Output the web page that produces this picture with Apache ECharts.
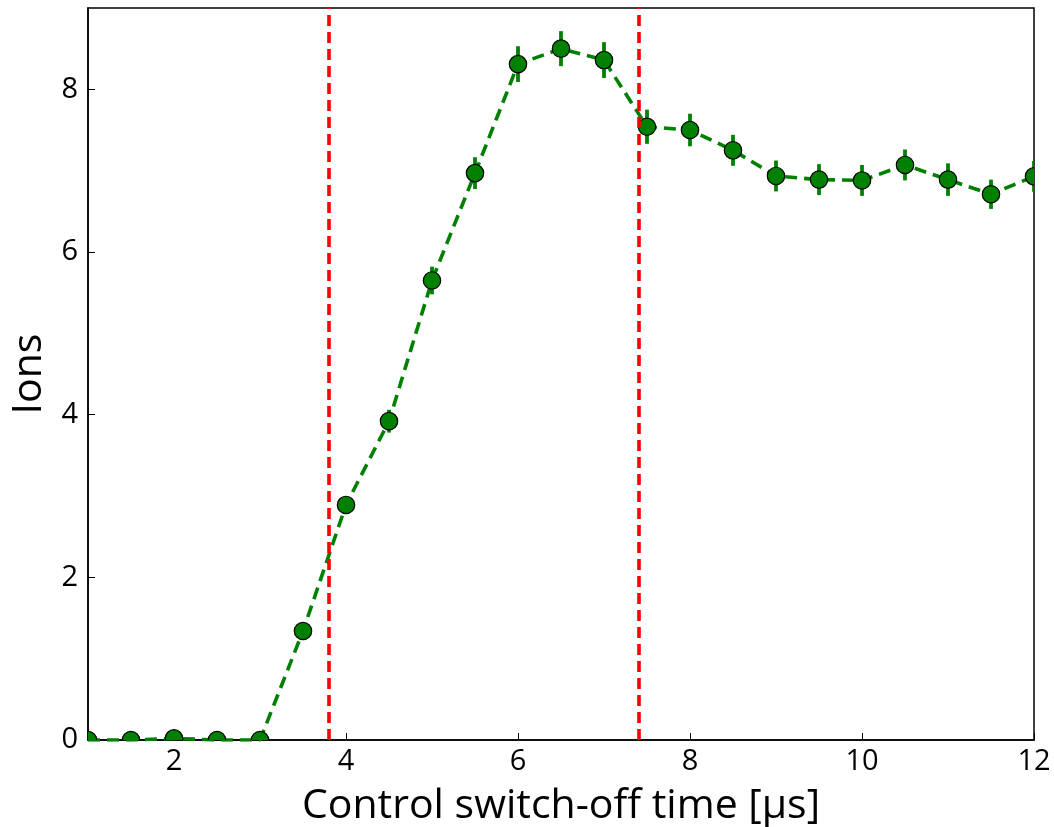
<!DOCTYPE html>
<html>
<head>
<meta charset="utf-8">
<script src="https://cdn.jsdelivr.net/npm/echarts@6/dist/echarts.min.js"></script>
<style>
  html, body { margin: 0; padding: 0; background: #fff; }
  #chart { width: 1054px; height: 827px; }
</style>
</head>
<body>
<div id="chart"></div>
<script>
// Switch-off times [µs]
const times = [1, 1.5, 2, 2.5, 3, 3.5, 4, 4.5, 5, 5.5, 6, 6.5, 7, 7.5, 8, 8.5, 9, 9.5, 10, 10.5, 11, 11.5, 12];
// Mean ion counts
const ions = [0, 0, 0.02, 0, 0, 1.34, 2.89, 3.92, 5.65, 6.97, 8.31, 8.50, 8.36, 7.54, 7.50, 7.25, 6.935, 6.89, 6.88, 7.07, 6.89, 6.71, 6.93];
// Standard errors
const ionErr = [0.03, 0.03, 0.03, 0.03, 0.03, 0.09, 0.1, 0.14, 0.17, 0.195, 0.22, 0.215, 0.22, 0.21, 0.2, 0.19, 0.19, 0.19, 0.19, 0.19, 0.2, 0.18, 0.19];
// Switching window boundaries [µs]
const markers = [3.8, 7.4];
// Axis ticks
const xTicks = [2, 4, 6, 8, 10, 12];
const yTicks = [0, 2, 4, 6, 8];

const FONT = '"Open Sans", "DejaVu Sans", sans-serif';
const GREEN = '#008000';

const lineData = times.map((t, i) => [t, ions[i]]);
const errData = times.map((t, i) => [t, ions[i], ionErr[i]]);

const chart = echarts.init(document.getElementById('chart'), null, { renderer: 'canvas' });

chart.setOption({
  animation: false,
  backgroundColor: '#fff',
  grid: {
    left: 88, top: 8, right: 20, bottom: 87,
    outerBoundsMode: 'none', containLabel: false,
    show: true, borderColor: '#000', borderWidth: 1.5, backgroundColor: 'transparent'
  },
  xAxis: {
    type: 'value', min: 1, max: 12,
    name: 'Control switch-off time [μs]',
    nameLocation: 'middle', nameGap: 46,
    nameTextStyle: { fontFamily: FONT, fontSize: 41, color: '#000' },
    axisLine: { show: true, onZero: false, lineStyle: { color: '#000', width: 1.5 } },
    axisTick: { show: true, inside: true, length: 7, customValues: xTicks, lineStyle: { color: '#000', width: 1 } },
    axisLabel: { customValues: xTicks, fontFamily: FONT, fontSize: 29, color: '#000', margin: 7 },
    splitLine: { show: false }
  },
  yAxis: {
    type: 'value', min: 0, max: 9,
    name: 'Ions',
    nameLocation: 'middle', nameGap: 38, nameRotate: 90,
    nameTextStyle: { fontFamily: FONT, fontSize: 41, color: '#000' },
    axisLine: { show: true, onZero: false, lineStyle: { color: '#000', width: 1.5 } },
    axisTick: { show: true, inside: true, length: 7, customValues: yTicks, lineStyle: { color: '#000', width: 1 } },
    axisLabel: { customValues: yTicks, fontFamily: FONT, fontSize: 29, color: '#000', margin: 10 },
    splitLine: { show: false }
  },
  series: [
    {
      name: 'ions-line',
      type: 'line',
      data: lineData,
      symbol: 'none',
      clip: true,
      z: 2,
      lineStyle: { color: GREEN, width: 3.6, type: [12, 7] }
    },
    {
      name: 'ions-points',
      type: 'custom',
      data: errData,
      clip: true,
      z: 3,
      renderItem: function (params, api) {
        const x = api.value(0), y = api.value(1), e = api.value(2);
        const c = api.coord([x, y]);
        const hi = api.coord([x, y + e]);
        const lo = api.coord([x, y - e]);
        return {
          type: 'group',
          children: [
            { type: 'line', shape: { x1: hi[0], y1: hi[1], x2: lo[0], y2: lo[1] },
              style: { stroke: GREEN, lineWidth: 3.8 } },
            { type: 'circle', shape: { cx: c[0], cy: c[1], r: 8.7 },
              style: { fill: GREEN, stroke: '#000', lineWidth: 1.2 } }
          ]
        };
      }
    },
    {
      name: 'window',
      type: 'line',
      data: [],
      z: 4,
      markLine: {
        silent: true,
        symbol: 'none',
        label: { show: false },
        lineStyle: { color: '#ff0000', width: 3.6, type: [11, 6] },
        data: markers.map(v => ({ xAxis: v }))
      }
    }
  ]
});
</script>
</body>
</html>
